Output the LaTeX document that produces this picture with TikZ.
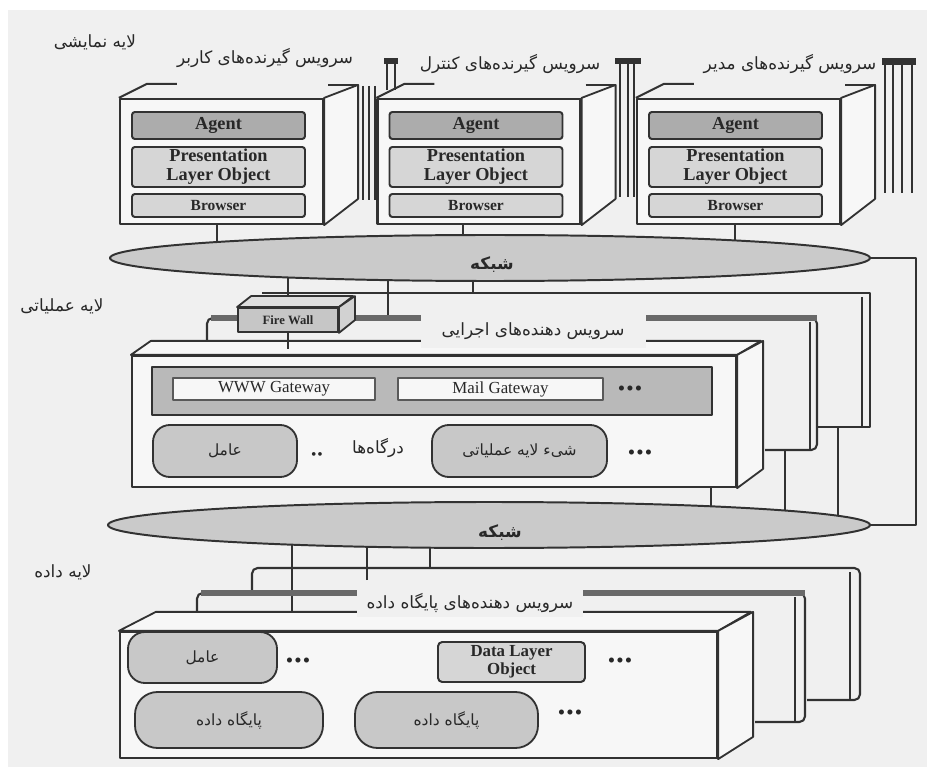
\documentclass[tikz,border=0pt]{standalone}
\usepackage{fontspec}
\setmainfont{Liberation Serif}
\newfontfamily\farsifont[Script=Arabic]{DejaVu Sans}
\TeXXeTstate=1
\newcommand\fatxt[1]{{\farsifont\beginR #1\endR}}
\newcommand\pxu{0.025cm}
\newcommand\bdots{\textbullet\hspace{0.8pt}\textbullet\hspace{0.8pt}\textbullet}
\usetikzlibrary{shapes.geometric}
\pgfdeclarelayer{paper}
\pgfdeclarelayer{wires}
\pgfsetlayers{paper,wires,main}
\definecolor{papercol}{RGB}{240,240,240}
\definecolor{linecol}{RGB}{50,50,50}
\definecolor{textcol}{RGB}{40,40,40}
\definecolor{facecol}{RGB}{247,247,247}
\definecolor{agentcol}{RGB}{172,172,172}
\definecolor{objcol}{RGB}{214,214,214}
\definecolor{netcol}{RGB}{202,202,202}
\definecolor{pillcol}{RGB}{200,200,200}
\definecolor{barcol}{RGB}{105,105,105}
\definecolor{gwcol}{RGB}{185,185,185}

\begin{document}
\begin{tikzpicture}[x=\pxu, y=-\pxu, line join=round,
    every node/.style={inner sep=0pt, text=textcol},
    front/.style={draw=linecol, fill=facecol, line width=1.6pt},
    face/.style={draw=linecol, fill=facecol, line width=1.3pt},
    edge/.style={draw=linecol, line width=1.5pt},
    stackline/.style={draw=linecol, line width=1pt},
    wire/.style={draw=linecol, line width=1.2pt},
    bar/.style={draw=barcol, line width=4.5pt},
    agentrow/.style={draw=linecol, fill=agentcol, line width=1.4pt, rounded corners=2pt,
      font=\bfseries\fontsize{13}{13}\selectfont},
    objrow/.style={draw=linecol, fill=objcol, line width=1.4pt, rounded corners=2pt,
      align=center, font=\bfseries\fontsize{13}{13.5}\selectfont},
    netshape/.style={ellipse, draw=linecol, fill=netcol, line width=1.4pt},
    netlab/.style={font=\bfseries\fontsize{12}{12}\selectfont},
    layerlab/.style={font=\fontsize{12}{12}\selectfont},
    svclab/.style={font=\fontsize{12}{12}\selectfont},
    pill/.style={draw=linecol, fill=pillcol, line width=1.3pt, rounded corners=12pt,
      font=\fontsize{11}{11}\selectfont},
    gwbox/.style={draw=gray!70!black, fill=facecol, line width=1.2pt,
      font=\fontsize{12}{12}\selectfont},
    dots/.style={font=\fontsize{15}{15}\selectfont}]

  \begin{pgfonlayer}{paper}
    \fill[white] (0,0) rectangle (927,767);
    \fill[papercol] (8,10) rectangle (927,767);
  \end{pgfonlayer}
  \useasboundingbox (0,0) rectangle (927,767);

  % presentation layer
  \node[layerlab] (lpres) at (95,42) {\fatxt{لایه نمایشی}};

  % copies stacked behind the client boxes
  \foreach \sx in {363,369,375} \draw[stackline] (\sx,86) -- (\sx,200);
  \fill[linecol] (384,58) rectangle (398,64);
  \draw[stackline] (387,64) -- (387,90) (395,64) -- (395,90);
  \draw[stackline] (610,90) -- (610,197);
  \foreach \sx in {620,628,634} \draw[stackline] (\sx,64) -- (\sx,197);
  \fill[linecol] (615,58) rectangle (641,64);
  \draw[stackline] (870,95) -- (870,200);
  \foreach \sx in {885,893,902,912} \draw[stackline] (\sx,65) -- (\sx,193);
  \fill[linecol] (882,58) rectangle (916,65);

  % client boxes
  \foreach \nm/\cx/\lx/\ly/\who in {ucl/221.5/265/58/کاربر, ccl/479/510/64/کنترل, mcl/738.5/790/64/مدیر}{
    \node[svclab] (\nm-lab) at (\lx,\ly) {\fatxt{سرویس گیرنده^^^^200cهای \who}};
    \node[front, minimum width=203*\pxu, minimum height=125*\pxu] (\nm) at (\cx,161.5) {};
    \draw[face] (\nm.north east) -- ++(34,-13) -- ++(0,114) -- (\nm.south east) -- cycle;
    \draw[edge] (\nm.north west) -- ++(28,-14) -- ++(30,0);
    \draw[edge] (\nm.north east) ++(4,-13) -- ++(30,0);
    \node[agentrow, minimum width=173*\pxu, minimum height=27*\pxu] (\nm-ag) at (\cx-3,125.5) {Agent};
    \node[objrow, minimum width=173*\pxu, minimum height=40*\pxu] (\nm-plo) at (\cx-3,167) {Presentation\\Layer Object};
    \node[objrow, minimum width=173*\pxu, minimum height=23*\pxu,
      font=\bfseries\fontsize{11}{11}\selectfont] (\nm-br) at (\cx-3,205.5) {Browser};
  }

  % networks
  \node[netshape, minimum width=760*\pxu, minimum height=46*\pxu] (net1) at (490,258) {};
  \node[netlab] (net1-lab) at (492,265) {\fatxt{شبکه}};
  \node[netshape, minimum width=762*\pxu, minimum height=46*\pxu] (net2) at (489,525) {};
  \node[netlab] (net2-lab) at (500,533) {\fatxt{شبکه}};
  \draw[wire] (net1.east) -- ++(45,0) |- (net2.east);

  % operational layer
  \node[layerlab] (lop) at (62,306) {\fatxt{لایه عملیاتی}};
  \draw[edge] (262,293) -- (870,293) -- (870,427) -- (818,427);
  \draw[stackline] (862,297) -- (862,427);
  \draw[edge, rounded corners=4pt] (207,342) -- (207,318) -- (817,318) -- (817,450) -- (765,450);
  \draw[bar] (211,318) -- (817,318);
  \draw[stackline] (810,322) -- (810,450);
  \coordinate (opin2) at (388,318);
  \coordinate (opin3) at (473,293);
  \coordinate (opout2) at (785,450);
  \coordinate (opout3) at (838,427);

  \node[front, minimum width=604*\pxu, minimum height=131*\pxu] (opx) at (434,421.5) {};
  \draw[face] (opx.north west) -- ++(20,-14) -- ++(610,0) -- (opx.north east) -- cycle;
  \draw[face] (opx.north east) -- ++(26,-14) -- ++(0,128) -- (opx.south east) -- cycle;
  \coordinate (opout1) at ([xshift=-26*\pxu]opx.south east);
  \node[svclab, fill=papercol, minimum width=225*\pxu, minimum height=34*\pxu] (op-lab) at (533,331)
    {\fatxt{سرویس دهنده^^^^200cهای اجرایی}};

  \node[draw=linecol, fill=gray!45, line width=1.3pt, minimum width=100*\pxu, minimum height=24*\pxu,
    font=\bfseries\fontsize{9}{9}\selectfont] (fw) at (288,320) {Fire Wall};
  \draw[face, fill=gray!25] (fw.north west) -- ++(14,-11) -- ++(102,0) -- (fw.north east) -- cycle;
  \draw[face, fill=gray!35] (fw.north east) -- ++(16,-11) -- ++(0,24) -- (fw.south east) -- cycle;
  \draw[wire] (fw.south) -- ++(0,16);

  \node[draw=linecol, fill=gwcol, line width=1.4pt, minimum width=560*\pxu, minimum height=48*\pxu] (gwrow) at (432,391) {};
  \node[gwbox, minimum width=202*\pxu, minimum height=22*\pxu] (www) at (274,389) {WWW Gateway};
  \node[gwbox, minimum width=205*\pxu, minimum height=22*\pxu] (mail) at (500.5,389) {Mail Gateway};
  \node[dots] (gwdots) at (630,391) {\bdots};
  \node[pill, minimum width=144*\pxu, minimum height=52*\pxu] (opagent) at (225,451) {\fatxt{عامل}};
  \node[dots, font=\fontsize{11}{11}\selectfont] (opdots1) at (317,456) {\textbullet\hspace{0.5pt}\textbullet};
  \node[svclab] (gates) at (378,448) {\fatxt{درگاه^^^^200cها}};
  \node[pill, minimum width=175*\pxu, minimum height=52*\pxu] (opobj) at (519.5,451) {\fatxt{شیء لایه عملیاتی}};
  \node[dots] (opdots2) at (640,455) {\bdots};

  % data layer
  \node[layerlab] (ldata) at (63,572) {\fatxt{لایه داده}};
  \draw[edge, rounded corners=4pt] (252,593) -- (252,568) -- (860,568) -- (860,700) -- (807,700);
  \draw[stackline] (850,572) -- (850,700);
  \draw[edge, rounded corners=4pt] (197,613) -- (197,593) -- (805,593) -- (805,722) -- (755,722);
  \draw[bar] (201,593) -- (805,593);
  \draw[stackline] (795,597) -- (795,722);
  \coordinate (dbin1) at (292,622);
  \coordinate (dbin2) at (367,580);
  \coordinate (dbin3) at (430,568);

  \node[front, minimum width=597*\pxu, minimum height=126*\pxu] (dbx) at (418.5,695) {};
  \draw[face] (dbx.north west) -- ++(37,-19) -- ++(595,0) -- (dbx.north east) -- cycle;
  \draw[face] (dbx.north east) -- ++(35,-19) -- ++(0,125) -- (dbx.south east) -- cycle;
  \node[svclab, fill=papercol, minimum width=226*\pxu, minimum height=28*\pxu] (db-lab) at (470,603)
    {\fatxt{سرویس دهنده^^^^200cهای پایگاه داده}};

  \node[pill, minimum width=149*\pxu, minimum height=51*\pxu] (dbagent) at (202.5,657.5) {\fatxt{عامل}};
  \node[dots] (dbdots1) at (298,663) {\bdots};
  \node[draw=linecol, fill=objcol, line width=1.4pt, rounded corners=3pt, align=center,
    minimum width=147*\pxu, minimum height=40*\pxu,
    font=\bfseries\fontsize{12}{12.5}\selectfont] (dlo) at (511.5,662) {Data Layer\\Object};
  \node[dots] (dbdots2) at (620,663) {\bdots};
  \node[pill, rounded corners=16pt, minimum width=188*\pxu, minimum height=56*\pxu] (db1) at (229,720) {\fatxt{پایگاه داده}};
  \node[pill, rounded corners=16pt, minimum width=183*\pxu, minimum height=56*\pxu] (db2) at (446.5,720) {\fatxt{پایگاه داده}};
  \node[dots] (dbdots3) at (570,715) {\bdots};

  % connections to the networks
  \begin{pgfonlayer}{wires}
    \foreach \nm/\dx in {ucl/-4.5, ccl/-16, mcl/-3.5}{
      \coordinate (\nm-out) at ([xshift=\dx*\pxu]\nm.south);
      \draw[wire] (\nm-out) -- (\nm-out |- net1.center);
    }
    \draw[wire] (fw.north) -- (fw.north |- net1.center);
    \foreach \pt in {opin2, opin3} \draw[wire] (\pt) -- (\pt |- net1.center);
    \foreach \pt in {opout1, opout2, opout3, dbin1, dbin2, dbin3} \draw[wire] (\pt) -- (\pt |- net2.center);
  \end{pgfonlayer}
\end{tikzpicture}
\end{document}
